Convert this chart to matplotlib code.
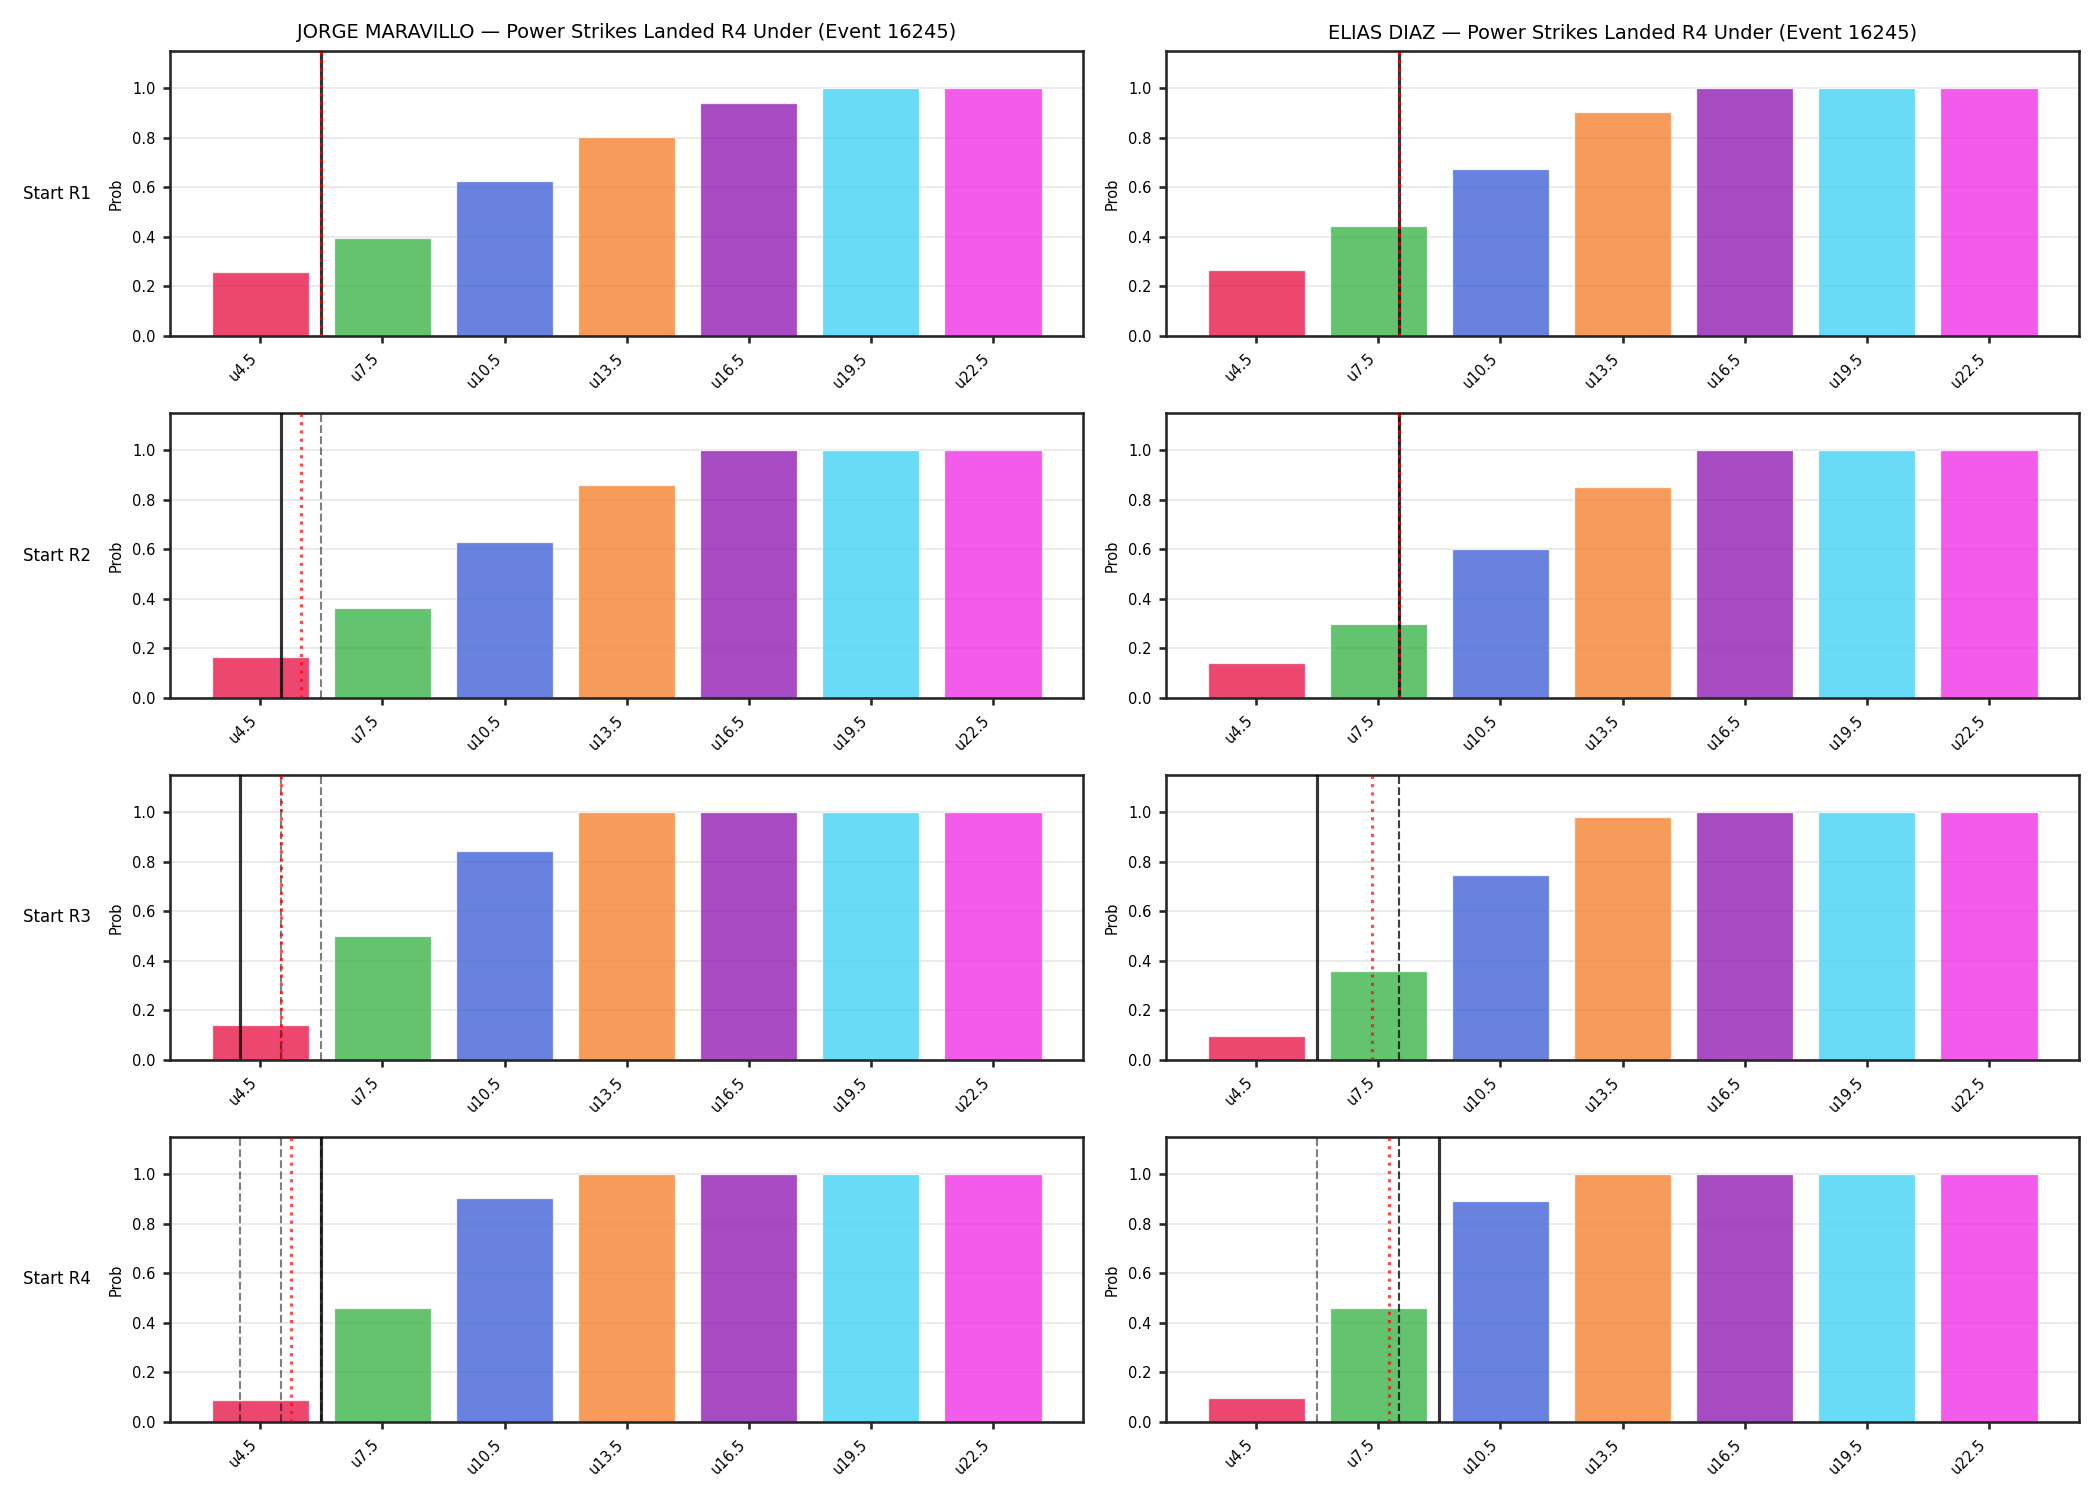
import numpy as np
import matplotlib
matplotlib.use("Agg")
import matplotlib.pyplot as plt

# thresholds of the "under" lines
lines = [4.5, 7.5, 10.5, 13.5, 16.5, 19.5, 22.5]
tick_labels = [f"u{v}" for v in lines]
bar_colors = ["#e6194b", "#3cb44b", "#4363d8", "#f58231",
              "#911eb4", "#42d4f4", "#f032e6"]

event_id = 16245
fighters = ["JORGE MARAVILLO", "ELIAS DIAZ"]
round_labels = ["Start R1", "Start R2", "Start R3", "Start R4"]

# P(under) per line, one row per starting round
jorge_probs = [
    [0.26, 0.395, 0.625, 0.805, 0.94, 1.0, 1.0],
    [0.165, 0.365, 0.63, 0.86, 1.0, 1.0, 1.0],
    [0.14, 0.50, 0.845, 1.0, 1.0, 1.0, 1.0],
    [0.09, 0.46, 0.905, 1.0, 1.0, 1.0, 1.0],
]
elias_probs = [
    [0.265, 0.445, 0.675, 0.905, 1.0, 1.0, 1.0],
    [0.14, 0.30, 0.60, 0.85, 1.0, 1.0, 1.0],
    [0.095, 0.36, 0.745, 0.98, 1.0, 1.0, 1.0],
    [0.095, 0.46, 0.89, 1.0, 1.0, 1.0, 1.0],
]

# power strikes landed per round (marker lines)
jorge_rounds = [6, 5, 4, 6]
elias_rounds = [8, 8, 6, 9]

probs = [jorge_probs, elias_probs]
strikes = [jorge_rounds, elias_rounds]


def to_x(v):
    # map a strike count onto the bar index axis (linear, no clamping)
    return (v - lines[0]) / (lines[1] - lines[0])


fig, axes = plt.subplots(4, 2, figsize=(14, 10), dpi=150)
fig.subplots_adjust(left=0.081, right=0.99, top=0.966, bottom=0.052,
                    wspace=0.091, hspace=0.27)

x = np.arange(len(lines))
for c, name in enumerate(fighters):
    for r in range(4):
        ax = axes[r, c]
        ax.bar(x, probs[c][r], width=0.8, color=bar_colors, alpha=0.8,
               edgecolor="white", linewidth=0.6, zorder=2)
        seen = strikes[c][:r + 1]
        for v in seen[:-1]:
            ax.axvline(to_x(v), color="k", ls="--", lw=1.0, alpha=0.5, zorder=3)
        ax.axvline(to_x(seen[-1]), color="k", lw=1.5, alpha=0.8, zorder=4)
        ax.axvline(to_x(np.mean(seen)), color="red", ls=":", lw=1.5, alpha=0.7, zorder=5)

        ax.set_ylim(0, 1.15)
        ax.set_yticks(np.arange(0, 1.01, 0.2))
        ax.set_xticks(x)
        ax.set_xticklabels(tick_labels, rotation=45, ha="right")
        ax.tick_params(labelsize=7, width=1.25, color="#262626")
        ax.grid(axis="y", color="#e6e6e6", lw=0.8, zorder=0)
        ax.set_axisbelow(True)
        for s in ax.spines.values():
            s.set_linewidth(1.25)
            s.set_color("#262626")
        ax.set_ylabel("Prob", fontsize=7)
        if r == 0:
            ax.set_title(f"{name} \u2014 Power Strikes Landed R4 Under (Event {event_id})",
                         fontsize=9.3)
        if c == 0:
            pos = ax.get_position()
            fig.text(0.011, (pos.y0 + pos.y1) / 2, round_labels[r],
                     ha="left", va="center", fontsize=8)

fig.savefig("out.png", dpi=150)
